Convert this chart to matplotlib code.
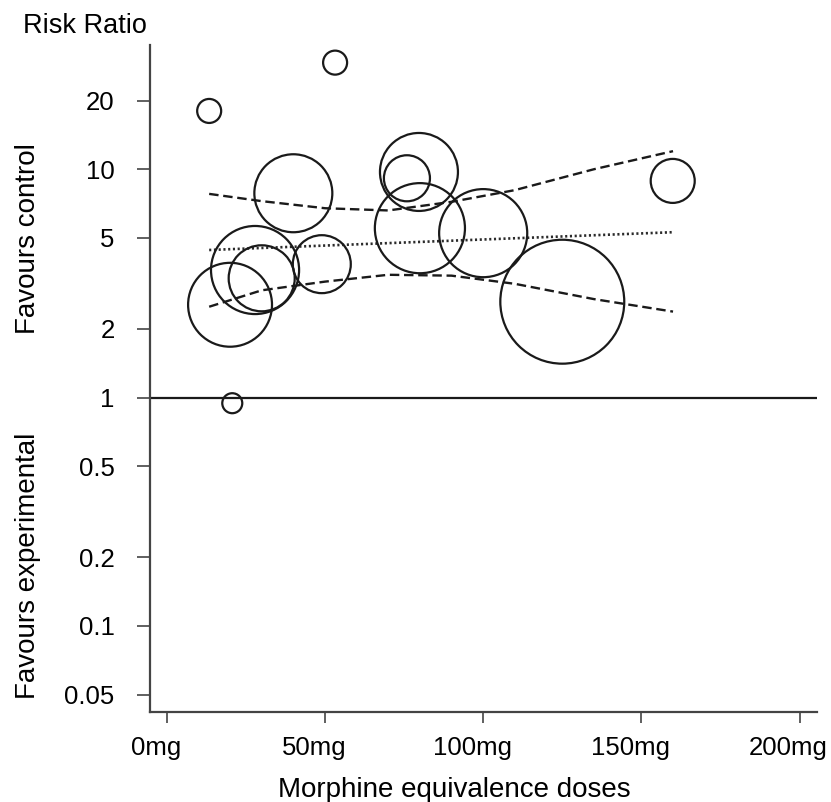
import numpy as np
import matplotlib
matplotlib.use("Agg")
import matplotlib.pyplot as plt
from matplotlib.transforms import ScaledTranslation

plt.rcParams['font.family'] = ['Liberation Sans', 'DejaVu Sans']

# studies: dose (mg), risk ratio, weight
dose = [13.4, 53.2, 40.0, 27.9, 30.0, 20.0, 49.0, 20.7, 79.7, 75.9, 80.0, 100.0, 125.0, 159.9]
rr = [18.0, 29.3, 7.85, 3.62, 3.33, 2.55, 3.84, 0.945, 9.73, 9.13, 5.52, 5.25, 2.63, 8.89]
weight = [1.44, 1.44, 15.2, 19.4, 10.9, 17.6, 8.4, 1.0, 15.2, 5.3, 20.3, 19.4, 38.4, 4.84]

# regression line and confidence band
fit_x = [13.4, 160.0]
fit_y = [4.43, 5.30]
ci_x = [13.4, 30, 50, 70, 90, 110, 135, 160]
ci_upper = [7.8, 7.25, 6.75, 6.6, 7.2, 8.1, 10.0, 12.0]
ci_lower = [2.5, 2.95, 3.22, 3.45, 3.42, 3.15, 2.7, 2.38]

xticks = [0, 50, 100, 150, 200]
xtick_labels = ["0mg", "50mg", "100mg", "150mg", "200mg"]
yticks = [0.05, 0.1, 0.2, 0.5, 1, 2, 5, 10, 20]
ytick_labels = ["0.05", "0.1", "0.2", "0.5", "1", "2", "5", "10", "20"]

fig = plt.figure(figsize=(8.31, 8.02), dpi=100)
ax = fig.add_axes([150/831, 1-712/802, 667/831, 667/802])

ink = "#1a1a1a"
ax.axhline(1, color=ink, lw=1.6, zorder=1)

sizes = [w*207.36 for w in weight]
ax.scatter(dose, rr, s=sizes, facecolors='none', edgecolors=ink, linewidths=1.6, zorder=3)

ax.plot(fit_x, fit_y, color="#2a2a2a", lw=1.9, dashes=[0.8, 1.0], zorder=2)
ax.plot(ci_x, ci_upper, color=ink, lw=1.7, dashes=[4.0, 2.0], zorder=2)
ax.plot(ci_x, ci_lower, color=ink, lw=1.7, dashes=[4.0, 2.0], zorder=2)

ax.set_yscale('log')
ax.set_xlim(-5.3, 205.5)
ax.set_ylim(0.042, 35)
ax.set_xticks(xticks)
ax.set_xticklabels(xtick_labels)
ax.set_yticks(yticks)
ax.set_yticklabels(ytick_labels)
ax.minorticks_off()

for s in ['top', 'right']:
    ax.spines[s].set_visible(False)
for s in ['left', 'bottom']:
    ax.spines[s].set_color("#444444")
    ax.spines[s].set_linewidth(1.6)

ax.tick_params(axis='y', length=9.5, width=1.2, color="#444444", pad=16, labelsize=18.5)
ax.tick_params(axis='x', length=8, width=1.2, color="#444444", pad=9, labelsize=18.5)

# x tick labels sit a little left of their ticks in the original
shift = ScaledTranslation(-0.11, 0, fig.dpi_scale_trans)
for lab in ax.get_xticklabels():
    lab.set_transform(lab.get_transform() + shift)

fig.text(23/831, 1-33/802, "Risk Ratio", fontsize=19.5, va='baseline', ha='left')
fig.text(454/831, 1-797/802, "Morphine equivalence doses", fontsize=20, va='baseline', ha='center')
fig.text(28/831, 1-239/802, "Favours control", fontsize=20, rotation=90, va='center', ha='center')
fig.text(28/831, 1-566/802, "Favours experimental", fontsize=20, rotation=90, va='center', ha='center')

fig.savefig("out.png", dpi=100)
